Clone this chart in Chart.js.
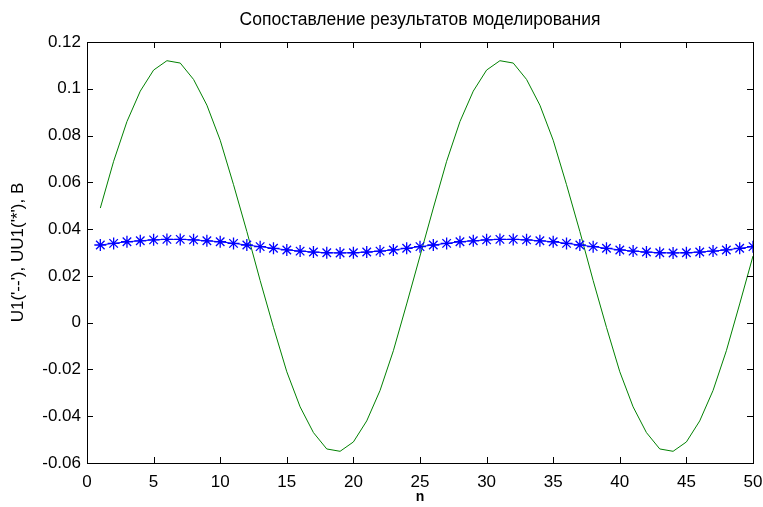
<!DOCTYPE html>
<html>
<head>
<meta charset="utf-8">
<script src="https://cdn.jsdelivr.net/npm/chart.js@4"></script>
<style>
  body { margin: 0; background: #fff; }
</style>
</head>
<body>
<canvas id="chart" width="763" height="507"></canvas>
<script>
//Data
const n = [1,2,3,4,5,6,7,8,9,10,11,12,13,14,15,16,17,18,19,20,21,22,23,24,25,
           26,27,28,29,30,31,32,33,34,35,36,37,38,39,40,41,42,43,44,45,46,47,48,49,50];

//U1 - green line
const u1 = [0.049,0.069,0.086,0.099,0.108,0.112,0.111,0.104,0.093,0.078,
            0.059,0.039,0.018,-0.002,-0.021,-0.036,-0.047,-0.054,-0.055,-0.051,
            -0.042,-0.029,-0.012,0.008,0.0285,
            0.049,0.069,0.086,0.099,0.108,0.112,0.111,0.104,0.093,0.078,
            0.059,0.039,0.018,-0.002,-0.021,-0.036,-0.047,-0.054,-0.055,-0.051,
            -0.042,-0.029,-0.012,0.008,0.0285];

//UU1 - blue stars
const uu1 = [0.0332,0.0339,0.0346,0.0350,0.0354,0.0356,0.0356,0.0354,0.0350,0.0346,
             0.0339,0.0332,0.0325,0.0318,0.0311,0.0306,0.0302,0.0299,0.0298,0.0299,
             0.0302,0.0306,0.0311,0.0318,0.0325,
             0.0332,0.0339,0.0346,0.0350,0.0354,0.0356,0.0356,0.0354,0.0350,0.0346,
             0.0339,0.0332,0.0325,0.0318,0.0311,0.0306,0.0302,0.0299,0.0298,0.0299,
             0.0302,0.0306,0.0311,0.0318,0.0325];

const xTicks = [0,5,10,15,20,25,30,35,40,45,50];
const yTicks = [-0.06,-0.04,-0.02,0,0.02,0.04,0.06,0.08,0.1,0.12];

const titleText = 'Сопоставление результатов моделирования';
const xLabel = 'n';
const yLabel = "U1('--'), UU1('*'), B";

const font = '"Liberation Sans", Arial, sans-serif';
const ctx = document.getElementById('chart');

//Inward ticks on all four sides and the axes box, like matlab
const boxPlugin = {
    id: 'box',
    afterDatasetsDraw(chart) {
        const c = chart.ctx;
        const a = chart.chartArea;
        const xs = chart.scales.x, ys = chart.scales.y;
        const len = 6;
        c.save();
        c.strokeStyle = '#000';
        c.lineWidth = 1;
        c.beginPath();
        xTicks.forEach(v => {
            const px = Math.round(xs.getPixelForValue(v)) + 0.5;
            c.moveTo(px, a.bottom); c.lineTo(px, a.bottom - len);
            c.moveTo(px, a.top); c.lineTo(px, a.top + len);
        });
        yTicks.forEach(v => {
            const py = Math.round(ys.getPixelForValue(v)) + 0.5;
            c.moveTo(a.left, py); c.lineTo(a.left + len, py);
            c.moveTo(a.right, py); c.lineTo(a.right - len, py);
        });
        c.stroke();
        c.strokeRect(Math.round(a.left) + 0.5, Math.round(a.top) + 0.5,
                     Math.round(a.right - a.left), Math.round(a.bottom - a.top));
        c.restore();
    }
};

const chartData = {
    datasets: [
        {
            label: 'U1',
            data: n.map((v, i) => ({x: v, y: u1[i]})),
            borderColor: 'rgb(0,128,0)',
            borderWidth: 1,
            pointRadius: 0,
            showLine: true,
            order: 2
        },
        {
            label: 'UU1',
            data: n.map((v, i) => ({x: v, y: uu1[i]})),
            borderColor: 'rgb(0,0,255)',
            backgroundColor: 'rgb(0,0,255)',
            borderWidth: 1,
            pointStyle: 'star',
            pointRadius: 6,
            pointBorderWidth: 1.3,
            showLine: true,
            order: 1
        }
    ]
};

const config = {
    type: 'scatter',
    data: chartData,
    plugins: [boxPlugin],
    options: {
        responsive: false,
        animation: false,
        layout: { padding: { left: 0, right: 10, top: 0, bottom: 0 } },
        plugins: {
            legend: { display: false },
            tooltip: { enabled: false },
            title: {
                display: true,
                fullSize: false, //centre the title over the plot box
                text: titleText,
                color: '#000',
                font: { family: font, size: 17.5, weight: 'normal' },
                padding: { top: 10, bottom: 11 }
            }
        },
        scales: {
            x: {
                type: 'linear',
                min: 0,
                max: 50,
                afterBuildTicks: s => { s.ticks = xTicks.map(v => ({value: v})); },
                afterFit: s => { s.height = 44; s.paddingLeft = 0; s.paddingRight = 0; },
                grid: { display: false, drawTicks: false },
                border: { display: false },
                ticks: {
                    color: '#000',
                    padding: 9,
                    maxRotation: 0,
                    font: { family: font, size: 17 }
                },
                title: {
                    display: true,
                    text: xLabel,
                    color: '#000',
                    font: { family: font, size: 14, weight: 'bold' },
                    padding: { top: 0, bottom: 1 }
                }
            },
            y: {
                min: -0.06,
                max: 0.12,
                afterBuildTicks: s => { s.ticks = yTicks.map(v => ({value: v})); },
                afterFit: s => { s.width = 87; },
                grid: { display: false, drawTicks: false },
                border: { display: false },
                ticks: {
                    color: '#000',
                    padding: 6,
                    font: { family: font, size: 17 },
                    callback: v => String(parseFloat(v.toFixed(2)))
                },
                title: {
                    display: true,
                    text: yLabel,
                    color: '#000',
                    font: { family: font, size: 17 },
                    padding: { top: 8, bottom: 0 }
                }
            }
        }
    }
};

const chart = new Chart(ctx, config);
</script>
</body>
</html>
